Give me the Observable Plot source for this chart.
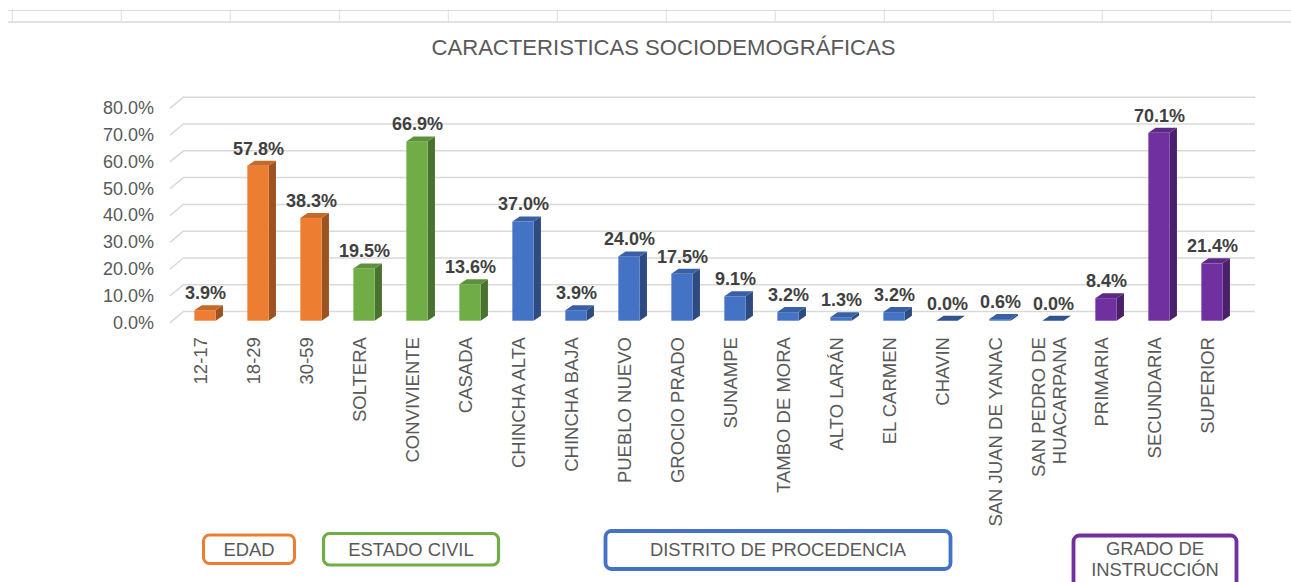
<!DOCTYPE html>
<html>
<head>
<meta charset="utf-8">
<script src="https://cdn.jsdelivr.net/npm/d3@7"></script>
<script src="https://cdn.jsdelivr.net/npm/@observablehq/plot@0.6"></script>
<style>
  html, body { margin: 0; padding: 0; background: #ffffff; }
  #chart svg { display: block; }
</style>
</head>
<body>
<div id="chart"></div>
<script>
// ---------- data ----------
const title = "CARACTERISTICAS SOCIODEMOGRÁFICAS";
const categories = ["12-17", "18-29", "30-59", "SOLTERA", "CONVIVIENTE", "CASADA",
  "CHINCHA ALTA", "CHINCHA BAJA", "PUEBLO NUEVO", "GROCIO PRADO", "SUNAMPE",
  "TAMBO DE MORA", "ALTO LARÁN", "EL CARMEN", "CHAVIN", "SAN JUAN DE YANAC",
  "SAN PEDRO DE\nHUACARPANA", "PRIMARIA", "SECUNDARIA", "SUPERIOR"];
const values = [3.9, 57.8, 38.3, 19.5, 66.9, 13.6, 37.0, 3.9, 24.0, 17.5, 9.1,
  3.2, 1.3, 3.2, 0.0, 0.6, 0.0, 8.4, 70.1, 21.4];
const groupOf = [0, 0, 0, 1, 1, 1, 2, 2, 2, 2, 2, 2, 2, 2, 2, 2, 2, 3, 3, 3];
const groups = ["EDAD", "ESTADO CIVIL", "DISTRITO DE PROCEDENCIA", "GRADO DE\nINSTRUCCIÓN"];
const yTicks = [0, 10, 20, 30, 40, 50, 60, 70, 80];

// ---------- styles / layout ----------
const groupColors = ["#ED7D31", "#70AD47", "#4472C4", "#7030A0"];
const FONT = "'Liberation Sans', Arial, Helvetica, sans-serif";
const TEXT = "#595959";
const GRID = "#D9D9D9";
const BAR_W = 21.3;                                // front face width
const DEPTH_X = 7.3, DEPTH_Y = 5, FRONT = 9.6;     // 3D bar depth & front-plane shift
const WALL_X = 14, WALL_Y = 11.6;                  // floor/wall diagonal
const legendLayout = [
  {dx: -9,  w: 91,  y0: 535,   y1: 563.5, sw: 3},
  {dx: -6,  w: 175, y0: 533.5, y1: 565,   sw: 3.2},
  {dx: -10, w: 345, y0: 531,   y1: 569,   sw: 3.8},
  {dx: -4,  w: 163, y0: 535.5, y1: 590,   sw: 3.8}
];

const rows = categories.map((c, i) => ({cat: c, value: values[i], gi: groupOf[i]}));

function shade(hex, k) {
  const c = d3.rgb(hex);
  return d3.rgb(c.r * k, c.g * k, c.b * k).formatHex();
}

// top spreadsheet strip (decoration)
function sheetStrip(index, scales, vals, dims) {
  const g = d3.create("svg:g");
  g.append("line").attr("x1", 8).attr("x2", dims.width).attr("y1", 10.5).attr("y2", 10.5)
    .attr("stroke", "#DCDCDC").attr("stroke-width", 1);
  g.append("line").attr("x1", 8).attr("x2", dims.width).attr("y1", 22).attr("y2", 22)
    .attr("stroke", "#E2E2E2").attr("stroke-width", 2);
  for (let x = 12.3; x < dims.width; x += 109) {
    g.append("line").attr("x1", x).attr("x2", x).attr("y1", 9.5).attr("y2", 21)
      .attr("stroke", "#DCDCDC").attr("stroke-width", 1);
  }
  return g.node();
}

// wall/floor diagonals
function diagonals(index, scales, vals, dims) {
  const g = d3.create("svg:g");
  const x0 = dims.marginLeft;
  for (const t of yTicks) {
    const yy = scales.y(t);
    g.append("line").attr("x1", x0 - WALL_X).attr("y1", yy + WALL_Y).attr("x2", x0).attr("y2", yy)
      .attr("stroke", GRID).attr("stroke-width", 1.5);
  }
  return g.node();
}

// 3D columns (x scale is a point scale: x(cat) is the bar centre)
function bars3d(index, scales, vals, dims) {
  const g = d3.create("svg:g");
  const x = scales.x, y = scales.y;
  for (const r of rows) {
    const cx = x(r.cat);
    const x0 = cx - BAR_W / 2, x1 = cx + BAR_W / 2;
    const yt = y(r.value) + FRONT, yb = y(0) + FRONT;
    const col = groupColors[r.gi];
    g.append("path")
      .attr("d", `M${x1},${yt}L${x1 + DEPTH_X},${yt - DEPTH_Y}L${x1 + DEPTH_X},${yb - DEPTH_Y}L${x1},${yb}Z`)
      .attr("fill", shade(col, 0.66));
    if (yb - yt > 0) {
      g.append("rect").attr("x", x0).attr("y", yt).attr("width", BAR_W).attr("height", yb - yt)
        .attr("fill", col);
    }
    g.append("path")
      .attr("d", `M${x0},${yt}L${x1},${yt}L${x1 + DEPTH_X},${yt - DEPTH_Y}L${x0 + DEPTH_X},${yt - DEPTH_Y}Z`)
      .attr("fill", r.value > 0 ? shade(col, 0.84) : shade(col, 0.72));
  }
  return g.node();
}

// group boxes below the axis
function groupBoxes(index, scales, vals, dims) {
  const g = d3.create("svg:g");
  const x = scales.x;
  groups.forEach((name, gi) => {
    const members = categories.filter((c, i) => groupOf[i] === gi);
    const L = legendLayout[gi];
    const cx = (x(members[0]) + x(members[members.length - 1])) / 2 + L.dx;
    g.append("rect")
      .attr("x", cx - L.w / 2).attr("y", L.y0).attr("width", L.w).attr("height", L.y1 - L.y0)
      .attr("rx", 6).attr("ry", 6)
      .attr("fill", "white").attr("stroke", groupColors[gi]).attr("stroke-width", L.sw);
    const lines = name.split("\n");
    const t = g.append("text")
      .attr("font-family", FONT).attr("font-size", 18.4).attr("fill", TEXT)
      .attr("text-anchor", "middle");
    lines.forEach((ln, k) => {
      const yy = lines.length === 1 ? (L.y0 + L.y1) / 2 : 549 + k * 20.5;
      t.append("tspan").attr("x", cx).attr("y", yy).attr("dy", "0.35em").text(ln);
    });
  });
  return g.node();
}

const chart = Plot.plot({
  width: 1291,
  height: 582,
  marginLeft: 184,
  marginRight: 36,
  marginTop: 96.7,
  marginBottom: 270.9,
  style: {fontFamily: FONT, background: "white", overflow: "visible"},
  x: {type: "point", domain: categories, range: [202.35, 1214.7], padding: 0, axis: null},
  y: {domain: [0, 80], range: [311.1, 96.7], axis: null},
  marks: [
    sheetStrip,
    Plot.ruleY(yTicks, {y: d => d, stroke: GRID, strokeWidth: 1.5}),
    diagonals,
    bars3d,
    Plot.text(yTicks, {
      y: d => d, text: d => d.toFixed(1) + "%", frameAnchor: "left",
      dx: -30.5, dy: 11.3, textAnchor: "end", fontSize: 18, fill: TEXT
    }),
    Plot.text(rows, {
      x: "cat", y: "value", text: d => d.value.toFixed(1) + "%",
      lineAnchor: "bottom", dy: -2, fontSize: 18, fontWeight: "bold", fill: "#404040"
    }),
    Plot.text(categories, {
      x: d => d, text: d => d, frameAnchor: "bottom", dy: 25.5, dx: -5,
      rotate: -90, textAnchor: "end", lineAnchor: "middle", lineHeight: 1.12,
      fontSize: 18.5, fill: TEXT
    }),
    Plot.text([title], {
      text: d => d, frameAnchor: "top", dx: -56.5, dy: -49.7,
      lineAnchor: "middle", fontSize: 22.1, fill: TEXT
    }),
    groupBoxes
  ]
});
document.getElementById("chart").appendChild(chart);
</script>
</body>
</html>
